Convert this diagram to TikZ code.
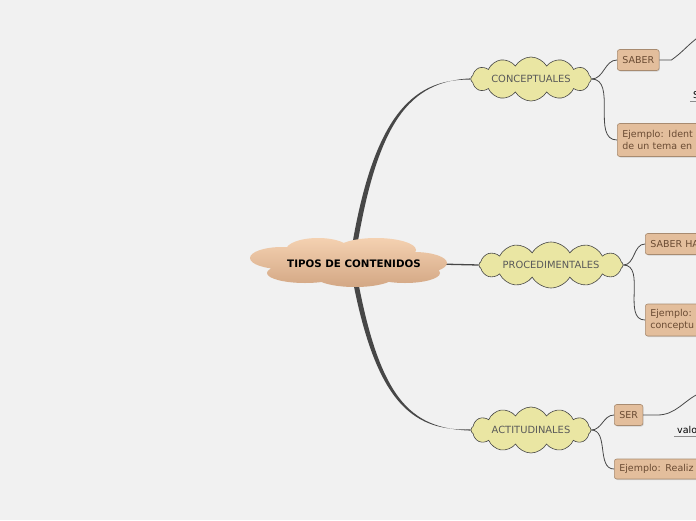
\documentclass[tikz,border=0pt]{standalone}
\usepackage{fontspec}
\setmainfont{DejaVu Sans}
\usetikzlibrary{shapes.symbols,shadows,positioning,calc}
\definecolor{bgc}{HTML}{F1F1F1}
\definecolor{peachtop}{HTML}{F4D1B1}
\definecolor{peachbot}{HTML}{D3A784}
\definecolor{cloudy}{HTML}{EAE6A3}
\definecolor{boxfill}{HTML}{E3BE9C}
\definecolor{boxline}{HTML}{A88B70}
\definecolor{boxtext}{HTML}{6A4B33}
\definecolor{linec}{HTML}{474747}
\tikzset{
  maintopic/.style={inner sep=0pt, font=\bfseries\fontsize{10.3}{12}\selectfont},
  topic/.style={cloud, cloud puffs=12, cloud puff arc=120, cloud ignores aspect,
    fill=cloudy, draw=linec, line width=0.6pt, text=black!65, font=\fontsize{9.9}{11}\selectfont},
  leaf/.style={rectangle, rounded corners=2.5pt, fill=boxfill, draw=boxline, line width=0.6pt,
    text=boxtext, font=\fontsize{9.5}{12.5}\selectfont, inner xsep=5pt, inner ysep=3pt, align=left,
    drop shadow={shadow xshift=0.8pt, shadow yshift=-1pt, fill=black!30}},
  twig/.style={draw=linec, line width=0.8pt},
  note/.style={font=\fontsize{9.5}{11}\selectfont, inner sep=0pt, anchor=south west}
}

\begin{document}
\begin{tikzpicture}[x=1pt, y=-1pt]
\useasboundingbox (0,0) rectangle (696,520);
\clip (0,0) rectangle (696,520);
\fill[bgc] (0,0) rectangle (696,520);

% subtopics
\node[topic, minimum width=120pt, minimum height=44pt] (conc) at (531,79) {CONCEPTUALES};
\node[topic, minimum width=144pt, minimum height=46pt] (proc) at (551,265) {PROCEDIMENTALES};
\node[topic, minimum width=120pt, minimum height=46pt] (acti) at (531,430) {ACTITUDINALES};

% leaves
\node[leaf, anchor=west, minimum height=21pt] (saber) at (617,60) {SABER};
\node[leaf, anchor=west, text width=110pt, minimum height=33pt] (ejconc) at (617,140) {Ejemplo: Ident\\de un tema en};
\node[leaf, anchor=west, text width=80pt, minimum height=21pt] (saberh) at (645,244) {SABER HA};
\node[leaf, anchor=west, text width=80pt, minimum height=32pt] (ejproc) at (645,320) {Ejemplo:\\conceptu};
\node[leaf, anchor=west, minimum height=21pt] (ser) at (614,415) {SER};
\node[leaf, anchor=west, text width=110pt, minimum height=20pt] (ejacti) at (614,469) {Ejemplo: Realiz};

% notes cut at the edge
\node[note, text width=40pt] (snote) at (693,99) {S};
\node[note, text width=40pt] (valo) at (677,434) {valo};
\draw[black!45, line width=1.5pt] ([xshift=-3pt, yshift=-2.5pt]snote.south west) -- ([yshift=-2.5pt]snote.south east);
\draw[black!45, line width=1.5pt] ([xshift=-3pt, yshift=-2.5pt]valo.south west) -- ([yshift=-2.5pt]valo.south east);

\coordinate (tiposhub) at (352,262);
\coordinate (saberout) at (700,36);
\coordinate (serout) at (700,393);

% trunks, thick at the hub
\fill[linec] ([xshift=-2.6pt]tiposhub) .. controls (371,120) and (410,78.5) .. ([yshift=-0.6pt]conc.west)
  -- ([yshift=0.6pt]conc.west) .. controls (410,81.5) and (376,120) .. ([xshift=2.6pt]tiposhub) -- cycle;
\fill[linec] ([xshift=-2.6pt]tiposhub) .. controls (373,400) and (410,431.5) .. ([yshift=0.6pt]acti.west)
  -- ([yshift=-0.6pt]acti.west) .. controls (410,428.5) and (378,400) .. ([xshift=2.6pt]tiposhub) -- cycle;
\draw[linec, line width=1.3pt] (tiposhub) -- (proc.west);

% main topic: soft cloud
\shade[top color=peachtop, bottom color=peachbot]
  (348,262) ellipse [x radius=80, y radius=18]
  (318,250) ellipse [x radius=32, y radius=12]
  (376,250) ellipse [x radius=40, y radius=12]
  (282,258) ellipse [x radius=32, y radius=11]
  (414,263) ellipse [x radius=33, y radius=11]
  (305,273) ellipse [x radius=38, y radius=10]
  (355,276) ellipse [x radius=40, y radius=11]
  (405,273) ellipse [x radius=35, y radius=10];
\node[maintopic] (tipos) at (354,264) {TIPOS DE CONTENIDOS};

% twigs
\draw[twig] (conc.east) to[out=0, in=180] (saber.west);
\draw[twig] (conc.east) to[out=0, in=180] (ejconc.west);
\draw[twig] (proc.east) to[out=0, in=180] (saberh.west);
\draw[twig] (proc.east) to[out=0, in=180] (ejproc.west);
\draw[twig] (acti.east) to[out=0, in=180] (ser.west);
\draw[twig] (acti.east) to[out=0, in=180] (ejacti.west);
\draw[twig] (saber.east) -- ++(12,0) to[out=35, in=215] (saberout);
\draw[twig] (ser.east) -- ++(14,0) to[out=0, in=205] (serout);
\end{tikzpicture}
\end{document}
